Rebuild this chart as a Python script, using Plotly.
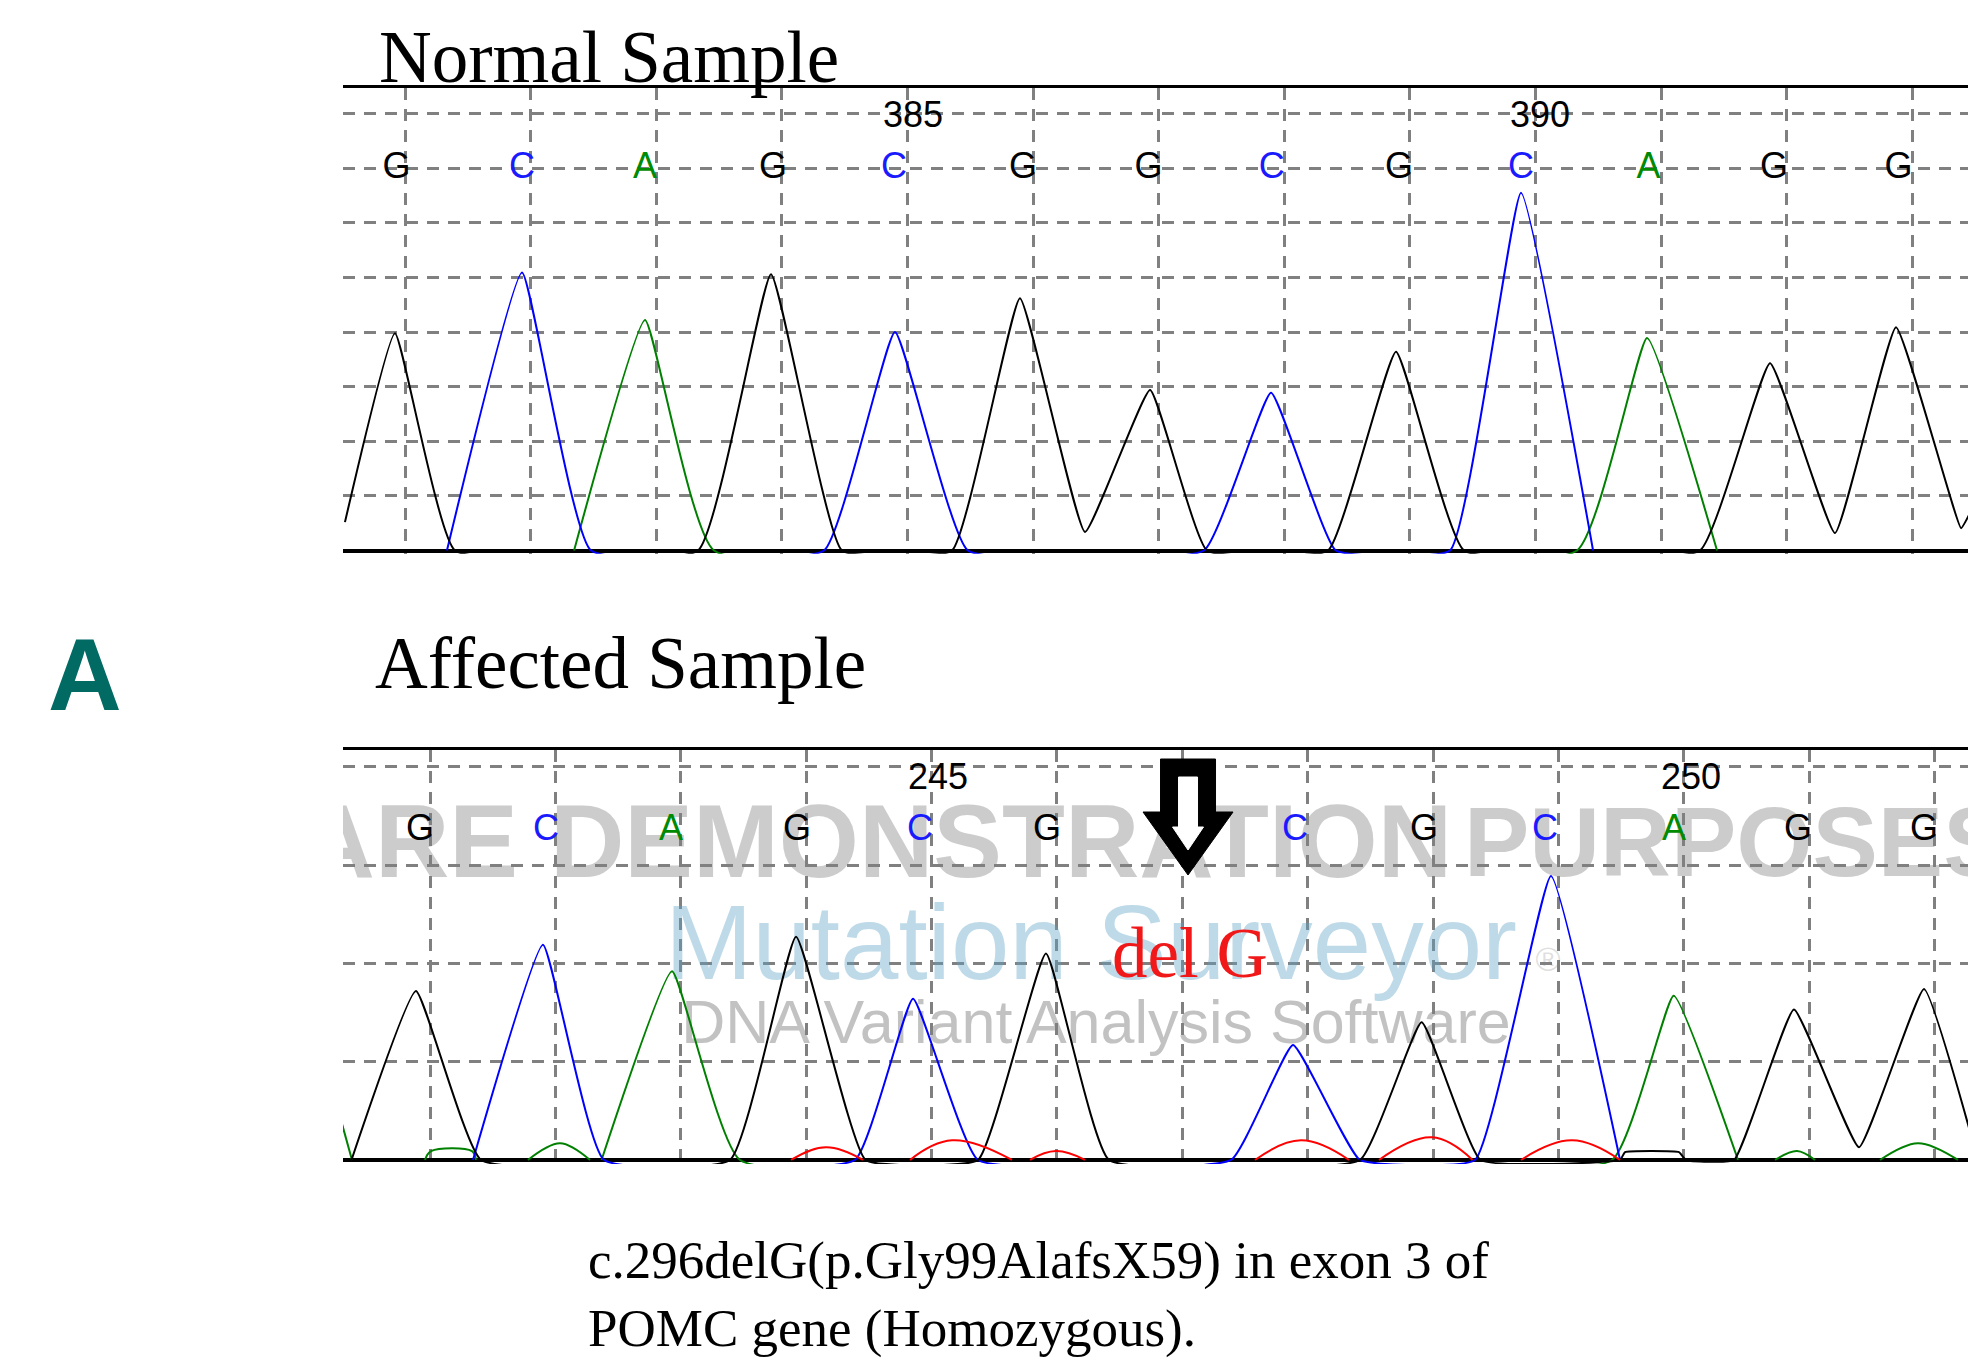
import plotly.graph_objects as go

W, H = 1981, 1360

# ---------------- data ----------------
# Normal sample: base calls and their positions (x in base-spacing units)
TOP_CALLS = list("GCAGCGGCGCAGG")
TOP_CALL_X = [-0.068, 0.931, 1.911, 2.930, 3.893, 4.920, 5.920, 6.900, 7.914, 8.885, 9.901, 10.900, 11.890]
TOP_NUM_LABELS = ["385", "390"]
TOP_NUM_X = [4.045, 9.036]

# Normal sample traces (vertex x / signal height)
TOP_BLACK_X = [-0.478, -0.080, 0.398, 2.333, 2.914, 3.479, 4.355, 4.896, 5.414, 5.932, 6.385,
               7.349, 7.890, 8.432, 10.310, 10.868, 11.385, 11.871, 12.389, 12.452]
TOP_BLACK_Y = [0.52, 3.98, 0, 0, 5.06, 0, 0, 4.62, 0.34, 2.94, 0,
               0, 3.64, 0, 0, 3.43, 0.32, 4.09, 0.41, 0.65]
TOP_BLUE_X = [0.334, 0.932, 1.481, 3.336, 3.901, 4.482, 6.361, 6.895, 7.412, 8.320, 8.885, 9.459]
TOP_BLUE_Y = [0, 5.09, 0, 0, 4.00, 0, 0, 2.89, 0, 0, 6.55, 0]
TOP_GREEN_X = [1.346, 1.911, 2.460, 9.331, 9.889, 10.446]
TOP_GREEN_Y = [0, 4.22, 0, 0, 3.89, 0]

# Affected sample
BOT_CALLS = list("GCAGCGCGCAGG")
BOT_CALL_X = [-0.080, 0.925, 1.922, 2.927, 3.907, 4.920, 6.898, 7.927, 8.892, 9.920, 10.909, 11.914]
BOT_NUM_LABELS = ["245", "250"]
BOT_NUM_X = [4.051, 10.056]
DEL_X = 6.045

BOT_BLACK_X = [-0.626, -0.112, 0.407, 2.392, 2.919, 3.474, 4.370, 4.912, 5.415, 7.416, 7.908, 8.378,
               9.490, 9.530, 9.960, 10.016, 10.399, 10.877, 11.396, 11.914, 12.344]
BOT_BLACK_Y = [0, 1.72, 0, 0, 2.27, 0, 0, 2.10, 0, 0, 1.40, 0,
               0, 0.08, 0.08, 0, 0, 1.53, 0.13, 1.74, 0]
BOT_BLUE_X = [0.343, 0.901, 1.388, 3.389, 3.852, 4.370, 6.388, 6.882, 7.416, 8.333, 8.939, 9.490]
BOT_BLUE_Y = [0, 2.19, 0, 0, 1.64, 0, 0, 1.17, 0, 0, 2.89, 0]
BOT_GREEN_X = [-0.700, -0.622, None, 1.368, 1.930, 2.472, 9.426, 9.918, 10.431]
BOT_GREEN_Y = [0.36, 0, None, 0, 1.92, 0, 0, 1.67, 0]
BOT_GREEN_SMALL_X = [-0.040, 0.008, 0.335, 0.367, None, 0.781, 1.037, 1.276, None,
                     10.726, 10.901, 11.045, None, 11.563, 11.866, 12.185]
BOT_GREEN_SMALL_Y = [0, 0.09, 0.09, 0, None, 0, 0.17, 0, None, 0, 0.09, 0, None, 0, 0.17, 0]
BOT_RED_X = [2.879, 3.158, 3.453, None, 3.828, 4.163, 4.641, None, 4.785, 4.992, 5.223, None,
             6.579, 6.946, 7.329, None, 7.568, 7.990, 8.314, None, 8.700, 9.107, 9.490]
BOT_RED_Y = [0, 0.13, 0, None, 0, 0.20, 0, None, 0, 0.09, 0, None,
             0, 0.20, 0, None, 0, 0.23, 0, None, 0, 0.20, 0]

CALL_COLORS = {"G": "#000000", "C": "#1a1aff", "A": "#008a00", "T": "#ff0000"}

# ---------------- figure ----------------
def pxx(p):
    return p / W


def pxy(p):
    return 1 - p / H


fig = go.Figure()

GRID = dict(showgrid=True, gridcolor="#808080", gridwidth=2.5, griddash="12px,9px")

# watermark (bottom panel, clipped to the plot area)
wm_gray = "rgba(128,128,128,0.40)"
fig.add_trace(go.Scatter(
    x=[(518 - 430) / 125.4, (1001 - 430) / 125.4, (1464 - 430) / 125.4],
    y=[3.143, 3.143, 3.143], mode="text",
    text=["SOFTWARE", "DEMONSTRATION", "PURPOSES ONLY"],
    textposition=["middle left", "middle center", "middle right"],
    textfont=dict(family="Liberation Sans", size=[103, 103, 98], color=wm_gray, weight="bold"),
    xaxis="x2", yaxis="y2", hoverinfo="skip", showlegend=False))
fig.add_trace(go.Scatter(
    x=[(1091 - 430) / 125.4], y=[2.106], mode="text",
    text=["Mutation Surveyor"], textposition="middle center",
    textfont=dict(family="Liberation Sans", size=105, color="rgba(92,162,198,0.40)"),
    xaxis="x2", yaxis="y2", hoverinfo="skip", showlegend=False))
fig.add_trace(go.Scatter(
    x=[(1548 - 430) / 125.4], y=[2.01], mode="text",
    text=["®"], textposition="middle center",
    textfont=dict(family="Liberation Sans", size=34, color="rgba(128,128,128,0.25)"),
    xaxis="x2", yaxis="y2", hoverinfo="skip", showlegend=False))
fig.add_trace(go.Scatter(
    x=[(1096 - 430) / 125.4], y=[1.343], mode="text",
    text=["DNA Variant Analysis Software"], textposition="middle center",
    textfont=dict(family="Liberation Sans", size=61, color="rgba(128,128,128,0.48)"),
    xaxis="x2", yaxis="y2", hoverinfo="skip", showlegend=False))


def add_line(x, y, color, xa, ya, shape="spline", smoothing=0.35):
    fig.add_trace(go.Scatter(x=x, y=y, mode="lines",
                             line=dict(color=color, width=2, shape=shape, smoothing=smoothing),
                             xaxis=xa, yaxis=ya, hoverinfo="skip", showlegend=False,
                             connectgaps=False))


# top panel traces
add_line(TOP_GREEN_X, TOP_GREEN_Y, "#008000", "x", "y")
add_line(TOP_BLUE_X, TOP_BLUE_Y, "#0000ff", "x", "y")
add_line(TOP_BLACK_X, TOP_BLACK_Y, "#000000", "x", "y")

# bottom panel traces
add_line(BOT_GREEN_SMALL_X, BOT_GREEN_SMALL_Y, "#008000", "x2", "y2", smoothing=1.0)
add_line(BOT_GREEN_X, BOT_GREEN_Y, "#008000", "x2", "y2")
add_line(BOT_BLUE_X, BOT_BLUE_Y, "#0000ff", "x2", "y2")
add_line(BOT_BLACK_X, BOT_BLACK_Y, "#000000", "x2", "y2")
add_line(BOT_RED_X, BOT_RED_Y, "#ff0000", "x2", "y2", smoothing=1.2)

# base calls and position numbers
CALL_FONT = "Liberation Sans"
fig.add_trace(go.Scatter(
    x=TOP_CALL_X, y=[6.99] * len(TOP_CALL_X), mode="text", text=TOP_CALLS,
    textposition="middle center",
    textfont=dict(family=CALL_FONT, size=36, color=[CALL_COLORS[c] for c in TOP_CALLS]),
    xaxis="x", yaxis="y", hoverinfo="skip", showlegend=False, cliponaxis=False))
fig.add_trace(go.Scatter(
    x=TOP_NUM_X, y=[7.92] * 2, mode="text", text=TOP_NUM_LABELS,
    textposition="middle center",
    textfont=dict(family=CALL_FONT, size=36, color="#000000"),
    xaxis="x", yaxis="y", hoverinfo="skip", showlegend=False, cliponaxis=False))
fig.add_trace(go.Scatter(
    x=BOT_CALL_X, y=[3.35] * len(BOT_CALL_X), mode="text", text=BOT_CALLS,
    textposition="middle center",
    textfont=dict(family=CALL_FONT, size=36, color=[CALL_COLORS[c] for c in BOT_CALLS]),
    xaxis="x2", yaxis="y2", hoverinfo="skip", showlegend=False, cliponaxis=False))
fig.add_trace(go.Scatter(
    x=BOT_NUM_X, y=[3.87] * 2, mode="text", text=BOT_NUM_LABELS,
    textposition="middle center",
    textfont=dict(family=CALL_FONT, size=36, color="#000000"),
    xaxis="x2", yaxis="y2", hoverinfo="skip", showlegend=False, cliponaxis=False))


# deletion arrow (black outline arrow with white core), sized in pixels
def arrow_path(cx, shaft_hw, head_hw, top_px, neck_px, tip_px):
    sx = 125.4

    def X(d):
        return cx + d / sx

    def Y(p):
        return (1160 - p) / 98.3
    pts = [(X(-shaft_hw), Y(top_px)), (X(shaft_hw), Y(top_px)), (X(shaft_hw), Y(neck_px)),
           (X(head_hw), Y(neck_px)), (X(0), Y(tip_px)), (X(-head_hw), Y(neck_px)),
           (X(-shaft_hw), Y(neck_px))]
    return "M " + " L ".join(f"{a:.4f},{b:.4f}" for a, b in pts) + " Z"


fig.add_shape(type="path", path=arrow_path(DEL_X, 27.5, 45, 759, 812, 875),
              xref="x2", yref="y2", fillcolor="#000000", line=dict(color="#000000", width=1),
              layer="above")
fig.add_shape(type="path", path=arrow_path(DEL_X, 9.5, 15.5, 777, 827, 850),
              xref="x2", yref="y2", fillcolor="#ffffff", line=dict(color="#ffffff", width=1),
              layer="above")

# axes
x_dom = [pxx(343), pxx(1968)]
common_x = dict(domain=x_dom, dtick=1, tick0=0, zeroline=False, showticklabels=False,
                side="top", showline=True, linecolor="#000000", linewidth=3,
                ticks="inside", ticklen=9, tickcolor="#808080", tickwidth=2.5, **GRID)
common_y = dict(dtick=1, tick0=0, showticklabels=False, zeroline=True,
                zerolinecolor="#000000", zerolinewidth=4, showline=False, ticks="", **GRID)

fig.update_layout(
    width=W, height=H,
    margin=dict(l=0, r=0, t=0, b=0),
    paper_bgcolor="#ffffff", plot_bgcolor="#ffffff",
    xaxis=dict(range=[-0.4936, 12.444], anchor="y", **common_x),
    yaxis=dict(range=[-0.06, 8.47], domain=[pxy(553.8), pxy(88)], anchor="x", **common_y),
    xaxis2=dict(range=[-0.6938, 12.265], anchor="y2", **common_x),
    yaxis2=dict(range=[-0.04, 4.171], domain=[pxy(1163.9), pxy(750)], anchor="x2", **common_y),
    showlegend=False,
)

SERIF = "Liberation Serif"
ann = [
    dict(text="Normal Sample", x=pxx(377), y=pxy(58), xanchor="left", yanchor="middle",
         font=dict(family=SERIF, size=73, color="#000000")),
    dict(text="Affected Sample", x=pxx(373), y=pxy(663), xanchor="left", yanchor="middle",
         font=dict(family=SERIF, size=73, color="#000000")),
    dict(text="<b>A</b>", x=pxx(46), y=pxy(675), xanchor="left", yanchor="middle",
         font=dict(family="Liberation Sans", size=102, color="#006a63")),
    dict(text="del G", x=pxx(1110), y=pxy(953), xanchor="left", yanchor="middle",
         font=dict(family=SERIF, size=71, color="#f01818")),
    dict(text="c.296delG(p.Gly99AlafsX59) in exon 3 of", x=pxx(586), y=pxy(1260),
         xanchor="left", yanchor="middle", font=dict(family=SERIF, size=53, color="#000000")),
    dict(text="POMC gene (Homozygous).", x=pxx(586), y=pxy(1328),
         xanchor="left", yanchor="middle", font=dict(family=SERIF, size=53, color="#000000")),
]
for a in ann:
    fig.add_annotation(xref="paper", yref="paper", showarrow=False, **a)

fig.write_html("out.html", config={"displayModeBar": False},
               post_script="document.body.style.margin='0px';document.body.style.overflow='hidden';")
